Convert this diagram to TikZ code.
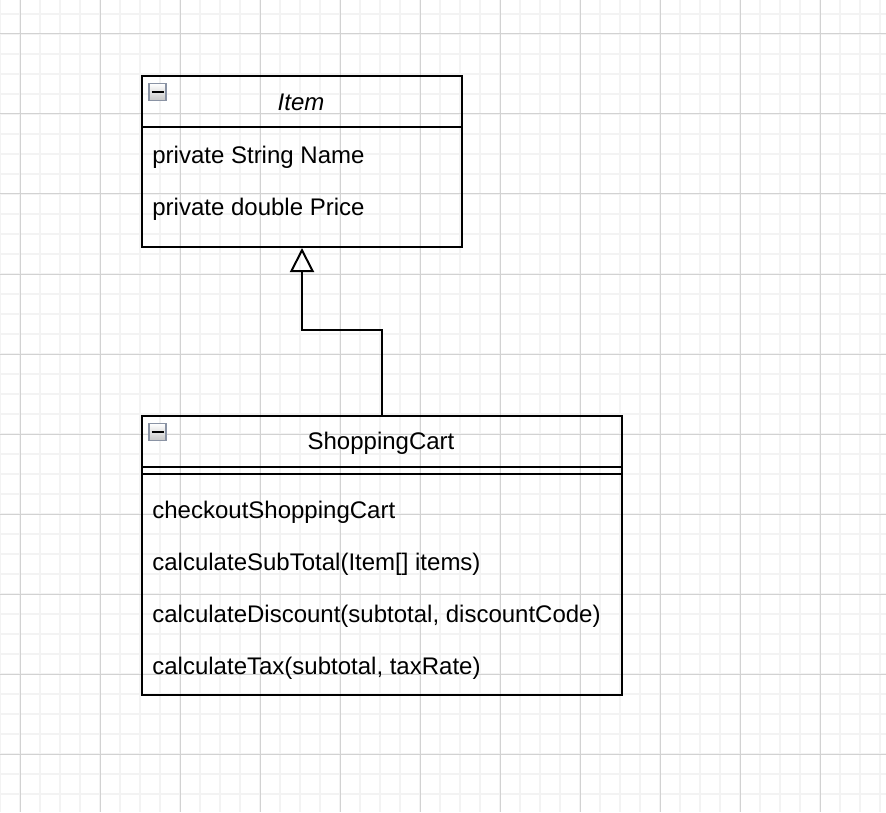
\documentclass[tikz,border=0pt]{standalone}
\usepackage{fontspec}
\setmainfont{Liberation Sans}
\usetikzlibrary{arrows.meta}

\definecolor{minorgrid}{HTML}{F3F3F3}
\definecolor{majorgrid}{HTML}{D2D2D2}
\definecolor{iconedge}{HTML}{8A93A4}

\begin{document}
\begin{tikzpicture}[x=0.5pt, y=-0.5pt, every node/.style={font=\fontsize{12}{14}\selectfont}]
    \tikzstyle{classbox}=[draw, line width=1pt, rectangle, anchor=north west, inner sep=0pt]
    \tikzstyle{member}=[anchor=west, inner sep=0pt]
    \tikzstyle{foldicon}=[draw=iconedge, line width=0.7pt, rectangle, minimum size=8.5pt, inner sep=0pt, top color=white, bottom color=gray!45]
    \tikzstyle{inherit}=[line width=1pt, -{Triangle[open, length=12pt, width=12pt]}]

    \useasboundingbox (0, 0) rectangle (886, 812);

    % grid
    \foreach \x in {0, 20, ..., 880} {
        \draw[minorgrid, line width=1pt] (\x, 0) -- (\x, 812);
    }
    \foreach \y in {14, 34, ..., 812} {
        \draw[minorgrid, line width=1pt] (0, \y) -- (886, \y);
    }
    \foreach \x in {20, 100, ..., 820} {
        \draw[majorgrid, line width=0.5pt] (\x, 0) -- (\x, 812);
    }
    \foreach \y in {34, 114, ..., 754} {
        \draw[majorgrid, line width=0.5pt] (0, \y) -- (886, \y);
    }

    \begin{scope}

        \node[classbox, minimum width=160pt, minimum height=85.5pt] (item) at (141, 75) {};
        \draw[line width=1pt] ([yshift=-26pt]item.north west) -- ([yshift=-26pt]item.north east);
        \node[foldicon] (itemicon) at (157.5, 92) {};
        \draw[line width=1pt] ([xshift=-3pt]itemicon.center) -- ([xshift=3pt]itemicon.center);
        \node (itemname) at (301, 102) {\itshape Item};
        \node[member] (itemattra) at (152, 157) {private String Name};
        \node[member] (itemattrb) at (152, 209) {private double Price};

    \end{scope}

    \begin{scope}

        \node[classbox, minimum width=240pt, minimum height=139.5pt] (cart) at (141, 415) {};
        \draw[line width=1pt] ([yshift=-26pt]cart.north west) -- ([yshift=-26pt]cart.north east);
        \draw[line width=1pt] ([yshift=-29.5pt]cart.north west) -- ([yshift=-29.5pt]cart.north east);
        \node[foldicon] (carticon) at (157.5, 432) {};
        \draw[line width=1pt] ([xshift=-3pt]carticon.center) -- ([xshift=3pt]carticon.center);
        \node (cartname) at (381, 443) {ShoppingCart};
        \foreach \y/\t [count=\i] in {512/checkoutShoppingCart, 564/{calculateSubTotal(Item[] items)}, 616/{calculateDiscount(subtotal, discountCode)}, 668/{calculateTax(subtotal, taxRate)}} {
            \node[member] (cartop\i) at (152, \y) {\t};
        }

    \end{scope}

    \draw[inherit] (cart.north) -- ++(0, -85) -| (item.south);

\end{tikzpicture}
\end{document}
